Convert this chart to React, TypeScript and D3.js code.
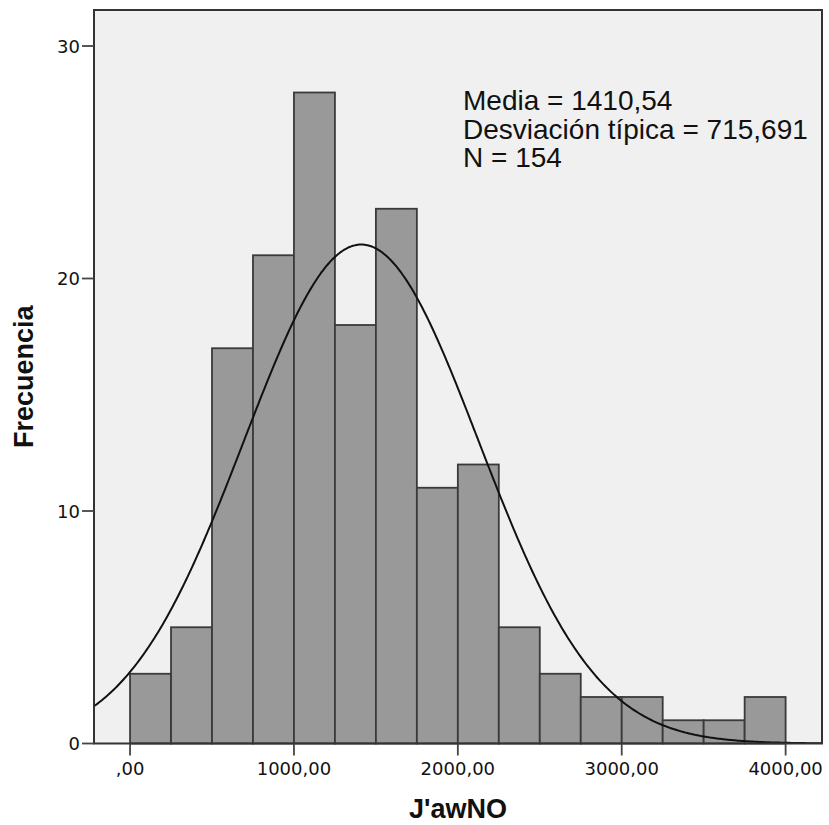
import React from "react";
import * as d3 from "d3";

// Histogram of J'awNO with 250-wide bins starting at 0
const binStarts = [0, 250, 500, 750, 1000, 1250, 1500, 1750, 2000, 2250, 2500, 2750, 3000, 3250, 3500, 3750];
const binCounts = [3, 5, 17, 21, 28, 18, 23, 11, 12, 5, 3, 2, 2, 1, 1, 2];
const binWidth = 250;
const xTicks = [0, 1000, 2000, 3000, 4000];
const yTicks = [0, 10, 20, 30];
const statLines = ["Media = 1410,54", "Desviación típica = 715,691", "N = 154"];
const mean = 1410.54;
const sd = 715.691;
const n = 154;

const W = 829;
const H = 825;
const plot = { left: 94, right: 822, top: 10, bottom: 743.5 };

const fmtX = (v: number) => (v === 0 ? ",00" : `${v},00`);

export default function App() {
  const x = d3.scaleLinear().domain([-220, 4222]).range([plot.left, plot.right]);
  const y = d3.scaleLinear().domain([0, 30]).range([plot.bottom, 46]);

  const scaleFactor = (n * binWidth) / (sd * Math.sqrt(2 * Math.PI));
  const curveXs = d3.range(-220, 4222 + 1, 10);
  const curve = d3
    .line<number>()
    .x((v) => x(v))
    .y((v) => y(scaleFactor * Math.exp(-0.5 * ((v - mean) / sd) ** 2)))
    .curve(d3.curveBasis)(curveXs);

  return (
    <svg width={W} height={H} style={{ display: "block", position: "absolute", left: 0, top: 0 }}>
      <defs>
        <clipPath id="plotClip">
          <rect x={plot.left} y={plot.top} width={plot.right - plot.left} height={plot.bottom - plot.top} />
        </clipPath>
      </defs>
      <rect x={plot.left} y={plot.top} width={plot.right - plot.left} height={plot.bottom - plot.top} fill="#f0f0f0" />
      {binStarts.map((b, i) => (
        <rect
          key={b}
          x={x(b)}
          y={y(binCounts[i])}
          width={x(b + binWidth) - x(b)}
          height={y(0) - y(binCounts[i])}
          fill="#999999"
          stroke="#3a3a3a"
          strokeWidth={1.8}
        />
      ))}
      <path d={curve ?? ""} fill="none" stroke="#111111" strokeWidth={2} clipPath="url(#plotClip)" />
      <rect
        x={plot.left}
        y={plot.top}
        width={plot.right - plot.left}
        height={plot.bottom - plot.top}
        fill="none"
        stroke="#333333"
        strokeWidth={2}
      />
      {/* y axis */}
      {yTicks.map((t) => (
        <g key={t}>
          <line x1={plot.left - 12} x2={plot.left} y1={y(t)} y2={y(t)} stroke="#444444" strokeWidth={1.8} />
          <text
            x={plot.left - 14}
            y={y(t)}
            textAnchor="end"
            dominantBaseline="central"
            fontFamily="DejaVu Sans"
            fontSize={18}
            fill="#111111"
          >
            {t}
          </text>
        </g>
      ))}
      {/* x axis */}
      {xTicks.map((t) => (
        <g key={t}>
          <line x1={x(t)} x2={x(t)} y1={plot.bottom} y2={plot.bottom + 12} stroke="#444444" strokeWidth={1.8} />
          <text x={x(t)} y={775} textAnchor="middle" fontFamily="DejaVu Sans" fontSize={18} fill="#111111">
            {fmtX(t)}
          </text>
        </g>
      ))}
      <text
        x={(plot.left + plot.right) / 2}
        y={818}
        textAnchor="middle"
        fontFamily="Liberation Sans, Arial, sans-serif"
        fontWeight="bold"
        fontSize={27}
        fill="#111111"
      >
        J'awNO
      </text>
      <text
        transform={`translate(33, ${(plot.top + plot.bottom) / 2}) rotate(-90)`}
        textAnchor="middle"
        fontFamily="Liberation Sans, Arial, sans-serif"
        fontWeight="bold"
        fontSize={27}
        fill="#111111"
      >
        Frecuencia
      </text>
      {statLines.map((s, i) => (
        <text
          key={s}
          x={463}
          y={110 + i * 28.5}
          fontFamily="Liberation Sans, Arial, sans-serif"
          fontSize={28}
          fill="#111111"
        >
          {s}
        </text>
      ))}
    </svg>
  );
}
